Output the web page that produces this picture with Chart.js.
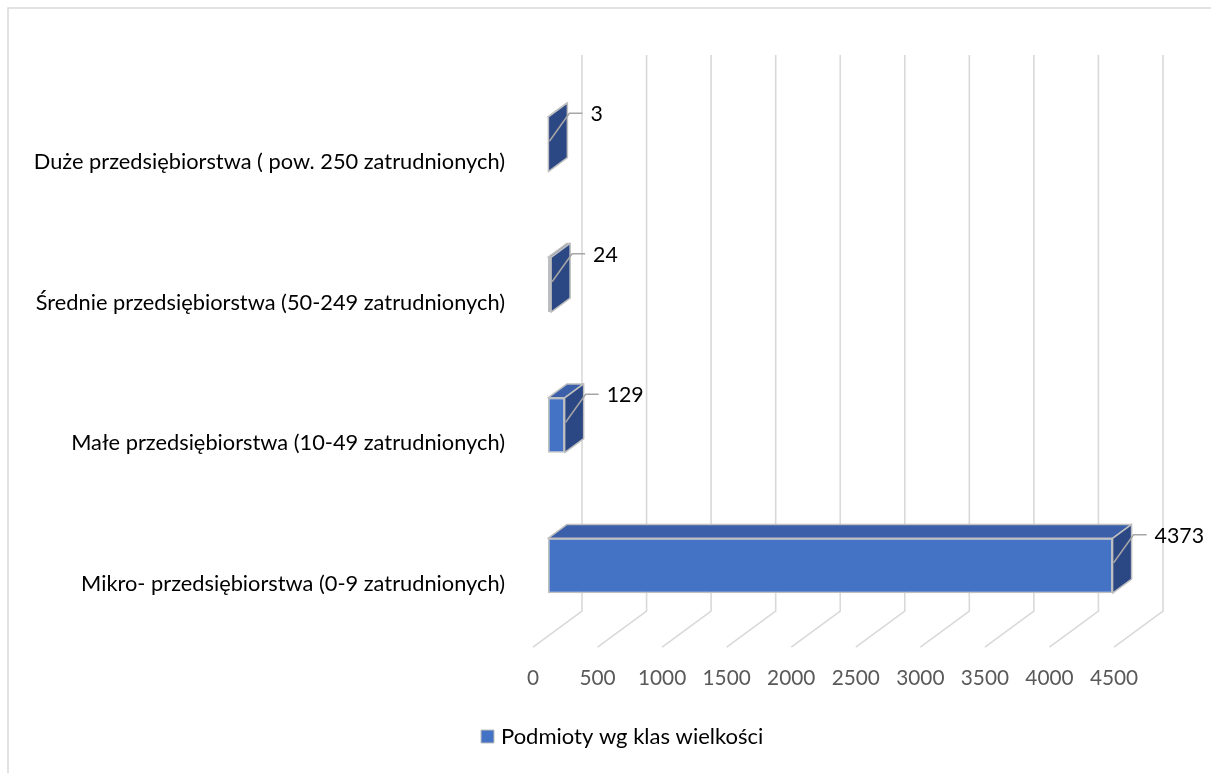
<!DOCTYPE html>
<html><head><meta charset="utf-8">
<script src="https://cdn.jsdelivr.net/npm/chart.js@4.4.0/dist/chart.umd.min.js"></script>
<style>html,body{margin:0;padding:0;background:#fff;}#wrap{width:1211px;height:773px;position:relative;}</style>
</head><body><div id="wrap"><canvas id="c"></canvas></div>
<script>
// ---- data ----
const categories = [
  'Mikro- przedsiębiorstwa (0-9 zatrudnionych)',
  'Małe przedsiębiorstwa (10-49 zatrudnionych)',
  'Średnie przedsiębiorstwa (50-249 zatrudnionych)',
  'Duże przedsiębiorstwa ( pow. 250 zatrudnionych)'
];
const values = [4373, 129, 24, 3];
const seriesName = 'Podmioty wg klas wielkości';
const tickValues = [0, 500, 1000, 1500, 2000, 2500, 3000, 3500, 4000, 4500];
const axisMin = 0, axisMax = 4500;

// ---- style ----
const FONT = 'Lato, "Open Sans", sans-serif';
const CAT_SIZE = 21.8, TICK_SIZE = 20.8, VAL_SIZE = 21.3, LEG_SIZE = 22;
const FRONT = '#4472C4', TOP = '#3B5FA9', SIDE = '#2B4784', EDGE = '#BFBFBF', GRID = '#D9D9D9';
const SLOPE = 36 / 49;          // oblique projection dy per dx
const BACK = 34, FLOOR = 15, BAR_D = 19;

const deco = {
  id: 'deco',
  beforeDatasetsDraw(chart) {
    const {ctx, chartArea: a, scales: {x: xs}} = chart;
    ctx.save();
    ctx.strokeStyle = GRID; ctx.lineWidth = 1.5;
    ctx.beginPath(); ctx.moveTo(8, 773); ctx.lineTo(8, 8); ctx.lineTo(1211, 8); ctx.stroke();
    const yTop = a.top - 19, yBot = a.bottom - BACK * SLOPE;
    const depth = BACK + FLOOR;
    ctx.strokeStyle = GRID; ctx.lineWidth = 1.6;
    tickValues.forEach(v => {
      const xb = xs.getPixelForValue(v) + BACK;
      ctx.beginPath();
      ctx.moveTo(xb, yTop); ctx.lineTo(xb, yBot);
      ctx.lineTo(xb - depth, yBot + depth * SLOPE);
      ctx.stroke();
    });
    ctx.restore();
  },
  afterDatasetsDraw(chart) {
    const {ctx, chartArea: a, scales: {x: xs, y: ys}} = chart;
    const meta = chart.getDatasetMeta(0);
    ctx.save();
    const dy = BAR_D * SLOPE;
    meta.data.forEach((bar, i) => {
      const p = bar.getProps(['x', 'y', 'base', 'height'], true);
      const l = p.base, r = p.x, t = p.y - p.height / 2, b = p.y + p.height / 2;
      ctx.lineWidth = 1.5; ctx.strokeStyle = EDGE; ctx.lineJoin = 'round';
      ctx.beginPath();
      ctx.moveTo(l, t); ctx.lineTo(r, t); ctx.lineTo(r + BAR_D, t - dy); ctx.lineTo(l + BAR_D, t - dy); ctx.closePath();
      ctx.fillStyle = TOP; ctx.fill(); ctx.stroke();
      ctx.beginPath();
      ctx.moveTo(r, t); ctx.lineTo(r + BAR_D, t - dy); ctx.lineTo(r + BAR_D, b - dy); ctx.lineTo(r, b); ctx.closePath();
      ctx.fillStyle = SIDE; ctx.fill(); ctx.stroke();
      ctx.strokeStyle = '#A6A6A6'; ctx.lineWidth = 1.5;
      ctx.beginPath();
      ctx.moveTo(r + 1, p.y - 3); ctx.lineTo(r + 21, p.y - 31); ctx.lineTo(r + 34, p.y - 31);
      ctx.stroke();
      ctx.fillStyle = '#000'; ctx.font = VAL_SIZE + 'px ' + FONT;
      ctx.textAlign = 'left'; ctx.textBaseline = 'middle';
      ctx.fillText(String(values[i]), r + 42, p.y - 30);
      ctx.font = CAT_SIZE + 'px ' + FONT; ctx.textAlign = 'right';
      ctx.fillText(categories[i], a.left - 43, ys.getPixelForValue(i) + 18);
    });
    ctx.fillStyle = '#595959'; ctx.font = TICK_SIZE + 'px ' + FONT;
    ctx.textAlign = 'center'; ctx.textBaseline = 'middle';
    tickValues.forEach(v => ctx.fillText(String(v), xs.getPixelForValue(v) - FLOOR, a.bottom + 42));
    ctx.fillStyle = FRONT; ctx.fillRect(481, 730, 13, 13);
    ctx.strokeStyle = EDGE; ctx.lineWidth = 1; ctx.strokeRect(481, 730, 13, 13);
    ctx.fillStyle = '#000'; ctx.font = LEG_SIZE + 'px ' + FONT; ctx.textAlign = 'left';
    ctx.fillText(seriesName, 501, 737);
    ctx.restore();
  }
};

new Chart(document.getElementById('c'), {
  type: 'bar',
  data: {
    labels: categories,
    datasets: [{
      label: seriesName, data: values,
      backgroundColor: FRONT, borderColor: EDGE, borderWidth: 1.5, borderSkipped: false,
      barPercentage: 0.39, categoryPercentage: 1
    }]
  },
  options: {
    indexAxis: 'y', responsive: true, maintainAspectRatio: false, animation: false,
    layout: {padding: {left: 548, right: 82, top: 74, bottom: 137}},
    scales: {
      x: {type: 'linear', min: axisMin, max: axisMax, display: false},
      y: {type: 'category', reverse: true, display: false}
    },
    plugins: {legend: {display: false}, tooltip: {enabled: false}}
  },
  plugins: [deco]
});
</script></body></html>
